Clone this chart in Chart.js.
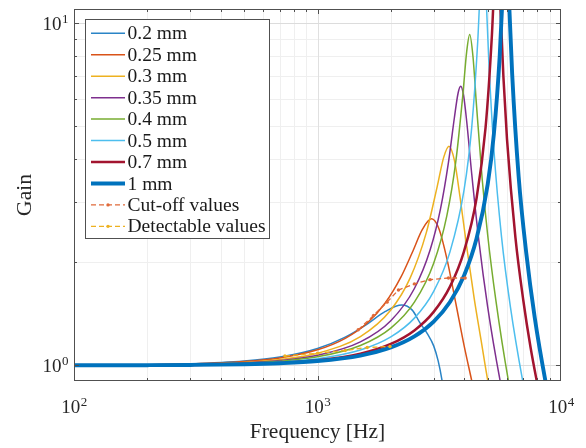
<!DOCTYPE html>
<html>
<head>
<meta charset="utf-8">
<script src="https://cdn.jsdelivr.net/npm/chart.js@4.4.1/dist/chart.umd.min.js"></script>
<style>
  html, body { margin: 0; padding: 0; background: #ffffff; }
  canvas { display: block; }
</style>
</head>
<body>
<canvas id="gainChart" width="586" height="448"></canvas>
<script>
// Gain vs. frequency for each thickness (frequency in Hz, gain dimensionless)
const f02  = [100, 200, 300, 500, 700, 1000, 1300, 1600, 1900, 2218, 2450, 2636, 2820, 3000, 3130, 3245, 3400];
const g02  = [1.001, 1.0045, 1.010, 1.029, 1.057, 1.120, 1.209, 1.320, 1.437, 1.500, 1.450, 1.330, 1.240, 1.140, 1.030, 0.905, 0.720];

const f025 = [100, 200, 300, 500, 700, 1000, 1300, 1600, 1900, 2200, 2450, 2700, 2938, 3150, 3400, 3700, 4000, 4296, 4700];
const g025 = [1.001, 1.004, 1.009, 1.0255, 1.051, 1.110, 1.199, 1.330, 1.524, 1.810, 2.137, 2.500, 2.680, 2.512, 2.048, 1.516, 1.142, 0.904, 0.670];

const f03  = [100, 200, 300, 500, 700, 1000, 1500, 2000, 2400, 2800, 3100, 3300, 3467, 3650, 3850, 4100, 4400, 4700, 5000, 5500];
const g03  = [1.0008, 1.0032, 1.0073, 1.020, 1.040, 1.085, 1.214, 1.452, 1.798, 2.447, 3.325, 4.06, 4.37, 3.97, 3.10, 2.22, 1.57, 1.18, 0.905, 0.65];

const f035 = [100, 200, 300, 500, 700, 1000, 1500, 2000, 2500, 2900, 3200, 3450, 3650, 3780, 3873, 3980, 4100, 4300, 4600, 5000, 5617, 6200];
const g035 = [1.0007, 1.0026, 1.0059, 1.0165, 1.033, 1.070, 1.171, 1.350, 1.677, 2.173, 2.867, 3.92, 5.30, 6.25, 6.54, 6.15, 5.16, 3.62, 2.31, 1.48, 0.905, 0.644];

const f04  = [100, 200, 300, 500, 700, 1000, 1500, 2000, 2500, 3000, 3400, 3700, 3950, 4100, 4218, 4350, 4500, 4750, 5000, 5400, 6075, 6700];
const g04  = [1.0006, 1.0022, 1.005, 1.0141, 1.028, 1.059, 1.143, 1.285, 1.530, 1.989, 2.744, 3.95, 6.14, 8.27, 9.27, 7.99, 5.72, 3.48, 2.40, 1.55, 0.905, 0.64];

const f05  = [100, 200, 300, 500, 700, 1000, 1500, 2000, 2500, 3000, 3500, 4000, 4300, 4550, 4700, 4790, 4900, 5050, 5300, 5700, 6200, 6962, 7600];
const g05  = [1.0004, 1.0017, 1.0039, 1.011, 1.0218, 1.0456, 1.109, 1.211, 1.374, 1.646, 2.146, 3.26, 4.97, 8.84, 14.4, 16.7, 13.0, 7.8, 4.28, 2.37, 1.48, 0.90, 0.66];

const f07  = [100, 200, 300, 500, 700, 1000, 1500, 2000, 2500, 3000, 3500, 4000, 4500, 4900, 5200, 5350, 5460, 5600, 5800, 6000, 6500, 7000, 7500, 8000, 8800];
const g07  = [1.0003, 1.0013, 1.003, 1.0085, 1.0167, 1.0347, 1.082, 1.155, 1.265, 1.433, 1.698, 2.158, 3.08, 4.95, 9.16, 14.1, 16.7, 12.4, 6.98, 4.59, 2.36, 1.55, 1.127, 0.88, 0.626];

const f10  = [100, 200, 300, 500, 700, 1000, 1500, 2000, 2500, 3000, 3500, 4000, 4500, 5000, 5300, 5600, 5800, 5940, 6100, 6300, 6700, 7200, 7800, 8650, 9500];
const g10  = [1.0003, 1.0011, 1.0026, 1.0071, 1.0141, 1.0292, 1.068, 1.128, 1.215, 1.343, 1.532, 1.830, 2.347, 3.38, 4.74, 8.0, 13.4, 16.7, 12.2, 7.13, 3.56, 2.13, 1.38, 0.892, 0.642];

// Cut-off and detectable limits
const fCut = [1470, 1700, 1930, 2150, 2500, 2900, 3450, 4040];
const gCut = [1.27, 1.40, 1.53, 1.66, 1.73, 1.78, 1.80, 1.80];

const fDet = [735, 1000, 1300, 1600, 1985];
const gDet = [1.065, 1.085, 1.105, 1.128, 1.135];

// Axis ranges and labelled ticks (value, exponent of 10)
const xRange = [100, 10000];
const yRange = [0.9, 11];
const xTickLabels = [[100, '2'], [1000, '3'], [10000, '4']];
const yTickLabels = [[1, '0'], [10, '1']];

const SERIF = '"Liberation Serif", "Times New Roman", Times, serif';

const series = [
  { label: '0.2 mm',  f: f02,  g: g02,  color: '#2a84c6', width: 1.5 },
  { label: '0.25 mm', f: f025, g: g025, color: '#D95319', width: 1.5 },
  { label: '0.3 mm',  f: f03,  g: g03,  color: '#EDB120', width: 1.5 },
  { label: '0.35 mm', f: f035, g: g035, color: '#7E2F8E', width: 1.5 },
  { label: '0.4 mm',  f: f04,  g: g04,  color: '#77AC30', width: 1.5 },
  { label: '0.5 mm',  f: f05,  g: g05,  color: '#4DBEEE', width: 1.5 },
  { label: '0.7 mm',  f: f07,  g: g07,  color: '#A2142F', width: 2.5 },
  { label: '1 mm',    f: f10,  g: g10,  color: '#0072BD', width: 3.9 },
  { label: 'Cut-off values',    f: fCut, g: gCut, color: '#E06A3A', width: 1.3, dash: [5, 3], marker: true },
  { label: 'Detectable values', f: fDet, g: gDet, color: '#EDB120', width: 1.3, dash: [5, 3], marker: true }
];

const toPoints = (f, g) => f.map((v, i) => ({ x: v, y: g[i] }));

const datasets = series.map((s, i) => ({
  label: s.label,
  data: toPoints(s.f, s.g),
  borderColor: s.color,
  backgroundColor: s.color,
  borderWidth: s.width,
  borderDash: s.dash || [],
  pointRadius: s.marker ? 1.7 : 0,
  pointBorderWidth: 0,
  pointBackgroundColor: s.color,
  cubicInterpolationMode: s.dash ? 'default' : 'monotone',
  tension: 0,
  capBezierPoints: false,
  fill: false,
  clip: 0,
  // later series are drawn above earlier ones
  order: series.length - i
}));

function drawPow(ctx, exp, x, y, align) {
  ctx.font = '19px ' + SERIF;
  const wb = ctx.measureText('10').width;
  ctx.font = '13px ' + SERIF;
  const we = ctx.measureText(exp).width;
  const total = wb + we;
  let x0 = x;
  if (align === 'center') x0 = x - total / 2;
  else if (align === 'right') x0 = x - total;
  ctx.textAlign = 'left';
  ctx.textBaseline = 'alphabetic';
  ctx.font = '19px ' + SERIF;
  ctx.fillText('10', x0, y);
  ctx.font = '13px ' + SERIF;
  ctx.fillText(exp, x0 + wb + 0.5, y - 7);
}

const axesDecor = {
  id: 'axesDecor',
  beforeDatasetsDraw(chart) {
    const { ctx, chartArea: a, scales: { x, y } } = chart;
    ctx.save();
    ctx.lineWidth = 1;
    const vline = (v, color) => {
      const px = Math.round(x.getPixelForValue(v)) + 0.5;
      ctx.strokeStyle = color;
      ctx.beginPath(); ctx.moveTo(px, a.top); ctx.lineTo(px, a.bottom); ctx.stroke();
    };
    const hline = (v, color) => {
      const py = Math.round(y.getPixelForValue(v)) + 0.5;
      ctx.strokeStyle = color;
      ctx.beginPath(); ctx.moveTo(a.left, py); ctx.lineTo(a.right, py); ctx.stroke();
    };
    for (const d of [100, 1000]) for (let k = 2; k <= 9; k++) vline(k * d, '#efefef');
    for (let k = 2; k <= 9; k++) hline(k, '#efefef');
    vline(1000, '#e0e0e0');
    hline(1, '#dcdcdc');
    hline(10, '#dcdcdc');
    ctx.restore();
  },
  afterDatasetsDraw(chart) {
    const { ctx, chartArea: a, scales: { x, y } } = chart;
    ctx.save();
    const axisColor = '#505050';
    ctx.strokeStyle = axisColor;
    ctx.lineWidth = 1;

    // inward ticks on all four sides
    const xt = (v, len) => {
      const px = Math.round(x.getPixelForValue(v)) + 0.5;
      ctx.beginPath();
      ctx.moveTo(px, a.bottom); ctx.lineTo(px, a.bottom - len);
      ctx.moveTo(px, a.top); ctx.lineTo(px, a.top + len);
      ctx.stroke();
    };
    const yt = (v, len) => {
      const py = Math.round(y.getPixelForValue(v)) + 0.5;
      ctx.beginPath();
      ctx.moveTo(a.left, py); ctx.lineTo(a.left + len, py);
      ctx.moveTo(a.right, py); ctx.lineTo(a.right - len, py);
      ctx.stroke();
    };
    for (const d of [100, 1000]) for (let k = 2; k <= 9; k++) xt(k * d, 3);
    xt(1000, 5);
    for (let k = 2; k <= 9; k++) yt(k, 3);
    yt(1, 5); yt(10, 5);

    // axes box
    ctx.strokeRect(Math.round(a.left) + 0.5, Math.round(a.top) + 0.5,
                   Math.round(a.right - a.left) - 1, Math.round(a.bottom - a.top) - 1);

    // tick labels
    ctx.fillStyle = '#262626';
    for (const [v, e] of xTickLabels) drawPow(ctx, e, x.getPixelForValue(v), a.bottom + 32, 'center');
    for (const [v, e] of yTickLabels) drawPow(ctx, e, a.left - 6, y.getPixelForValue(v) + 6.5, 'right');

    // axis titles
    ctx.font = '21.5px ' + SERIF;
    ctx.textAlign = 'center';
    ctx.textBaseline = 'alphabetic';
    ctx.fillText('Frequency [Hz]', (a.left + a.right) / 2, a.bottom + 57);
    ctx.save();
    ctx.translate(31, (a.top + a.bottom) / 2);
    ctx.rotate(-Math.PI / 2);
    ctx.fillText('Gain', 0, 0);
    ctx.restore();

    // legend
    const lx = a.left + 11, ly = a.top + 10, lw = 184, lh = 219;
    ctx.fillStyle = '#ffffff';
    ctx.fillRect(lx, ly, lw, lh);
    ctx.strokeStyle = axisColor;
    ctx.strokeRect(lx + 0.5, ly + 0.5, lw, lh);
    ctx.font = '19.5px ' + SERIF;
    ctx.textAlign = 'left';
    ctx.textBaseline = 'middle';
    chart.data.datasets.forEach((ds, i) => {
      const cy = ly + 14.3 + i * 21.45;
      ctx.save();
      ctx.strokeStyle = ds.borderColor;
      ctx.lineWidth = ds.borderWidth;
      ctx.setLineDash(ds.borderDash || []);
      ctx.beginPath(); ctx.moveTo(lx + 6, cy); ctx.lineTo(lx + 40, cy); ctx.stroke();
      if (ds.pointRadius > 0) {
        ctx.fillStyle = ds.borderColor;
        ctx.beginPath(); ctx.arc(lx + 23, cy, ds.pointRadius, 0, Math.PI * 2); ctx.fill();
      }
      ctx.restore();
      ctx.fillStyle = '#1a1a1a';
      ctx.fillText(ds.label, lx + 42.5, cy + 1);
    });
    ctx.restore();
  }
};

new Chart(document.getElementById('gainChart'), {
  type: 'line',
  data: { datasets },
  options: {
    responsive: false,
    animation: false,
    events: [],
    layout: { padding: { left: 74, right: 25, top: 9, bottom: 67 } },
    scales: {
      x: { type: 'logarithmic', min: xRange[0], max: xRange[1], display: false },
      y: { type: 'logarithmic', min: yRange[0], max: yRange[1], display: false }
    },
    plugins: { legend: { display: false }, tooltip: { enabled: false } }
  },
  plugins: [axesDecor]
});
</script>
</body>
</html>
